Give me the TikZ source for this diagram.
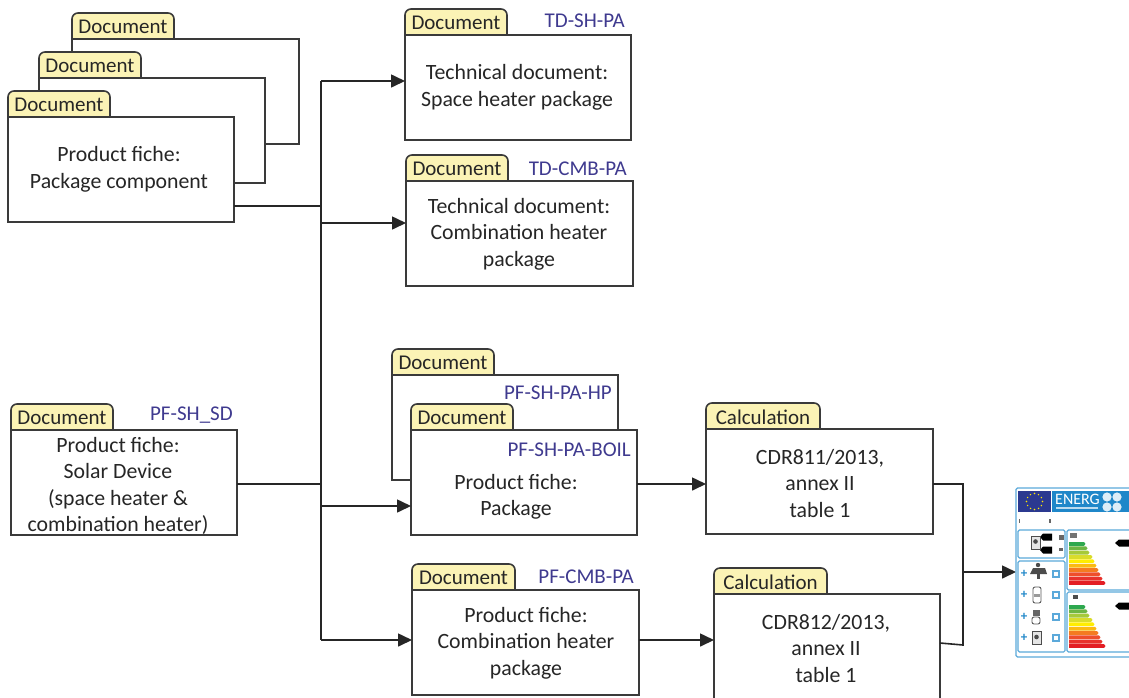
\documentclass[tikz,border=0pt]{standalone}
\usepackage{fontspec}
\setmainfont{Carlito}
\definecolor{ln}{HTML}{3A3A3A}
\definecolor{tabf}{HTML}{FBF3B5}
\definecolor{idc}{HTML}{3F3A8F}
\definecolor{lblue}{HTML}{5BA9DA}
\definecolor{eblue}{HTML}{1F87C9}
\definecolor{flag}{HTML}{2B3990}
\usetikzlibrary{arrows.meta}
\tikzset{
 x=1pt,y=-1pt,
 body/.style={draw=ln,line width=1.6pt,fill=white,inner sep=0pt,outer sep=0pt,anchor=north west},
 tabshape/.style={draw=ln,line width=1.6pt,fill=tabf},
 tabtext/.style={font=\fontsize{21}{24}\selectfont,text=black!85,inner sep=0pt},
 maintext/.style={font=\fontsize{21.8}{26.5}\selectfont,text=black!85,align=center,inner sep=0pt},
 idtext/.style={font=\fontsize{21}{24}\selectfont,text=idc,inner sep=0pt},
 conn/.style={draw=black!85,line width=1.6pt},
 arr/.style={conn,-{Triangle[length=14pt,width=13pt]}},
 lab/.style={draw=lblue,line width=1.1pt,rounded corners=1.5pt},
 plusmark/.style={text=eblue,font=\bfseries\fontsize{13}{13}\selectfont,inner sep=0pt},
 tagk/.style={fill=black,draw=none},
}
% name, x, ytab, xtabend, ybody, xend, yend, tab text
\newcommand{\docbox}[8]{%
 \node[body,minimum width=#6pt-#2pt,minimum height=#7pt-#5pt] (#1) at (#2,#5) {};
 \draw[tabshape] (#2,#5) [rounded corners=6pt] -- (#2,#3) -- (#4,#3) [sharp corners] -- (#4,#5) -- cycle;
 \path (#2,#5) -- node[tabtext,yshift=-1pt] (#1tab) {#8} (#4,#3);
}
\newcommand{\energybars}[2]{%
 \foreach \i/\c/\w in {0/2EA84F/15,1/6DB544/17,2/A6C93A/19,3/D9DC2B/22,4/FFED00/24,5/FBBA12/26,6/F47B20/28,7/EE4E2B/30,8/E8322C/32,9/E31E24/35}{
  \definecolor{barc}{HTML}{\c}
  \fill[barc] (#1,{#2+\i*4.35}) -- ++(\w,0) -- ++(1.5,1.9) -- ++(-1.5,1.9) -- ++(-\w,0) -- cycle;
 }%
}
\begin{document}
\begin{tikzpicture}
\useasboundingbox (0,0) rectangle (1129,697);
\docbox{bb}{72}{13}{174}{39}{299}{144}{Document}
\docbox{bm}{39}{52}{141}{78}{265}{183}{Document}
\docbox{bf}{8}{91}{110}{117}{234}{222}{Document}
\node[maintext] (bftxt) at (119,169.5) {Product fiche:\\Package component};
\docbox{tdsh}{405}{9}{507}{35}{631}{140}{Document}
\node[idtext,anchor=east] (tdshid) at (625,21) {TD-SH-PA};
\node[maintext] (tdshtxt) at (517,87.5) {Technical document:\\Space heater package};
\docbox{tdcmb}{406}{155}{508}{181}{633}{286}{Document}
\node[idtext,anchor=east] (tdcmbid) at (627,169) {TD-CMB-PA};
\node[maintext] (tdcmbtxt) at (519,234) {Technical document:\\Combination heater\\package};
\docbox{hp}{392}{349}{494}{375}{618}{480}{Document}
\node[idtext,anchor=east] (hpid) at (612,393) {PF-SH-PA-HP};
\docbox{boil}{411}{404}{513}{430}{637}{535}{Document}
\node[idtext,anchor=east] (boilid) at (631,450) {PF-SH-PA-BOIL};
\node[maintext] (boiltxt) at (516,497) {Product fiche:\\Package};
\docbox{sd}{11}{404}{113}{430}{237}{535}{Document}
\node[idtext,anchor=east] (sdid) at (233,415) {PF-SH\_SD};
\node[maintext] (sdtxt) at (118,486) {Product fiche:\\Solar Device\\(space heater \&\\combination heater)};
\docbox{cda}{706}{403}{820}{429}{933}{534}{Calculation}
\node[maintext] (cdatxt) at (820,483) {CDR811/2013,\\annex II\\table 1};
\docbox{cmb}{412}{564}{515}{590}{639}{695}{Document}
\node[idtext,anchor=east] (cmbid) at (634,577) {PF-CMB-PA};
\node[maintext] (cmbtxt) at (526,643) {Product fiche:\\Combination heater\\package};
\docbox{cdb}{714}{568}{827}{594}{940}{705}{Calculation}
\node[maintext] (cdbtxt) at (826,648) {CDR812/2013,\\annex II\\table 1};

% connectors
\coordinate (bustop) at (321,81);
\coordinate (busbot) at (321,640);
\coordinate (bfout) at (234,206);
\coordinate (sdout) at (237,484);
\coordinate (boilout) at (637,484);
\coordinate (cdain) at (706,484);
\coordinate (cmbout) at (639,640);
\coordinate (cdbin) at (714,640);
\coordinate (cdaout) at (933,484);
\coordinate (cdbout) at (940,643);
\coordinate (joinA) at (963,484);
\coordinate (joinB) at (963,645);
\coordinate (joinC) at (963,572);
\coordinate (labelin) at (1016,572);
\coordinate (busA) at (321,223);
\coordinate (busB) at (321,506);
\draw[conn] (bustop) -- (busbot);
\draw[arr] (bustop) -- (tdsh.west |- bustop);
\draw[conn] (bfout) -- (bfout -| bustop);
\draw[arr] (busA) -- (tdcmb.west |- busA);
\draw[conn] (sdout) -- (sdout -| bustop);
\draw[arr] (busB) -- (boil.west |- busB);
\draw[arr] (busbot) -- (cmb.west |- busbot);
\draw[arr] (boilout) -- (cdain);
\draw[arr] (cmbout) -- (cdbin);
\draw[conn] (cdaout) -- (joinA) -- (joinB) -- (cdbout);
\draw[arr] (joinC) -- (labelin);

% energy label
\draw[lab,fill=white] (1016,488) rectangle (1135,657);
\fill[flag] (1018,491) rectangle (1051,512);
\foreach \a in {0,30,...,330}{\fill[yellow!90!orange] ({1034.5+8*cos(\a)},{501.5+8*sin(\a)}) circle (0.8);}
\fill[eblue] (1052,491) rectangle (1135,512);
\node[text=white,font=\fontsize{16}{16}\selectfont,inner sep=0pt,anchor=west] (energ) at (1055,499) {ENERG};
\foreach \x/\y in {1107/497,1117/497,1107/507,1117/507}{\fill[white!85!eblue] (\x,\y) circle (4.6);}
\fill[white!70!eblue] (1056,507) rectangle (1098,508.5);
\fill[black!60] (1019,519) rectangle (1020,523);
\fill[black!60] (1049,519) rectangle (1051,523);
\draw[lab] (1018,530) rectangle (1065,558);
\draw[lab] (1018,561) rectangle (1065,652);
\draw[lab] (1067,530) rectangle (1135,590);
\draw[lab] (1067,592) rectangle (1135,652);
\energybars{1069}{542}
\energybars{1069}{605}
% small tags and icons
\foreach \x/\y in {1045/537,1045/550}{\fill[tagk] (\x-5,\y) -- (\x-2,\y-3.5) -- (\x+7,\y-3.5) -- (\x+7,\y+3.5) -- (\x-2,\y+3.5) -- cycle;}
\foreach \y in {543,606}{\fill[tagk] (1115,\y) -- (1119,\y-3.5) -- (1130,\y-3.5) -- (1130,\y+3.5) -- (1119,\y+3.5) -- cycle;}
\draw[black!70,line width=0.9pt,fill=black!10] (1031,536) rectangle (1040,549);
\fill[black!70] (1035.5,541.5) circle (2.3);
\fill[black!60] (1059,535) rectangle (1064,540);
\fill[black!60] (1059,548) rectangle (1063,551);
\fill[black!55] (1070,533) rectangle (1077,538);
\fill[black!70] (1073,595) rectangle (1078,599);
\foreach \y/\n in {574/a,595/b,617/c,638/d}{
 \node[plusmark] (plus\n) at (1024,\y) {+};
 \draw[lblue,line width=1.2pt] (1053,\y-3) rectangle (1059,\y+3);
}
\fill[black!70] (1030,574) -- (1033,568) -- (1045,568) -- (1047,574) -- cycle;
\fill[black!70] (1038,565) circle (2.2);
\fill[black!70] (1037,574) rectangle (1040,579);
\draw[black!65,line width=0.9pt,rounded corners=2pt] (1033,587) rectangle (1041,603);
\fill[black!40] (1034,594) rectangle (1040,597);
\fill[black!60] (1033,610) rectangle (1040,616);
\draw[black!65,line width=0.9pt,rounded corners=2pt] (1032,617) rectangle (1040,624);
\draw[black!70,line width=0.9pt,fill=black!10] (1032,631) rectangle (1041,644);
\fill[black!70] (1036.5,637) circle (2.3);
\end{tikzpicture}
\end{document}
